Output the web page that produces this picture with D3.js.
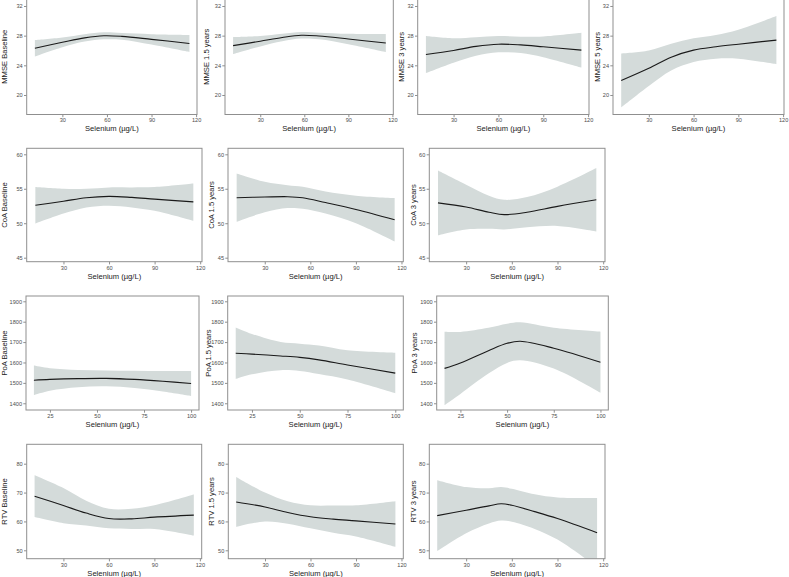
<!DOCTYPE html>
<html><head><meta charset="utf-8">
<script src="https://cdn.jsdelivr.net/npm/d3@7"></script>
<style>
html,body{margin:0;padding:0;background:#fff;}
svg{display:block;font-family:"Liberation Sans",Arial,sans-serif;}
</style></head>
<body>
<svg id="chart" width="789" height="577"></svg>
<script>
// ---------- tick labels ----------
const xTicksA = [30, 60, 90, 120];
const xTicksPoA = [25, 50, 75, 100];
const yTicksMMSE = [20, 24, 28, 32];
const yTicksCoA = [45, 50, 55, 60];
const yTicksPoA = [1400, 1500, 1600, 1700, 1800, 1900];
const yTicksRTV = [50, 60, 70, 80];
const xTitle = "Selenium (µg/L)";

// ---------- MMSE ----------
const mmseBaseX  = [11.5, 30, 45, 58, 70, 90, 115.5];
const mmseBaseFit= [26.3, 27.1, 27.7, 27.98, 27.9, 27.5, 26.95];
const mmseBaseHi = [27.4, 27.75, 28.2, 28.45, 28.35, 28.2, 28.1];
const mmseBaseLo = [25.2, 26.45, 27.2, 27.5, 27.45, 26.8, 25.8];

const mmse15X  = [11.5, 30, 45, 58, 70, 90, 115.5];
const mmse15Fit= [26.65, 27.25, 27.75, 28.05, 27.95, 27.55, 27.0];
const mmse15Hi = [27.8, 27.95, 28.25, 28.5, 28.4, 28.25, 28.2];
const mmse15Lo = [25.5, 26.55, 27.25, 27.6, 27.5, 26.85, 25.8];

const mmse3X  = [11.5, 30, 45, 60, 75, 90, 115.5];
const mmse3Fit= [25.45, 26.0, 26.55, 26.85, 26.75, 26.5, 26.05];
const mmse3Hi = [27.95, 27.65, 27.8, 27.95, 27.85, 27.9, 28.4];
const mmse3Lo = [22.95, 24.35, 25.3, 25.75, 25.65, 25.1, 23.7];

const mmse5X  = [11.5, 30, 45, 60, 75, 90, 115.5];
const mmse5Fit= [21.95, 23.6, 25.1, 26.05, 26.5, 26.85, 27.4];
const mmse5Hi = [25.6, 26.0, 26.9, 27.65, 28.1, 28.8, 30.65];
const mmse5Lo = [18.3, 21.2, 23.3, 24.45, 24.9, 24.9, 24.15];

// ---------- CoA ----------
const coaBaseX  = [11.5, 30, 45, 60, 75, 90, 115.5];
const coaBaseFit= [52.6, 53.2, 53.7, 53.9, 53.75, 53.5, 53.1];
const coaBaseHi = [55.25, 55.0, 55.0, 55.2, 55.2, 55.25, 55.75];
const coaBaseLo = [49.95, 51.4, 52.3, 52.55, 52.3, 51.8, 50.35];

const coa15X  = [11.5, 30, 45, 55, 70, 90, 115.5];
const coa15Fit= [53.7, 53.8, 53.85, 53.7, 53.0, 52.0, 50.5];
const coa15Hi = [57.2, 56.0, 55.5, 55.3, 54.6, 54.0, 53.65];
const coa15Lo = [50.2, 51.6, 52.2, 52.1, 51.4, 50.0, 47.35];

const coa3X  = [11.5, 30, 45, 55, 70, 90, 115.5];
const coa3Fit= [52.95, 52.35, 51.6, 51.25, 51.6, 52.45, 53.4];
const coa3Hi = [57.65, 55.6, 54.0, 53.4, 53.8, 55.3, 58.0];
const coa3Lo = [48.25, 49.1, 49.2, 49.1, 49.4, 49.6, 48.8];

// ---------- PoA ----------
const poaBaseX  = [16.5, 25, 40, 55, 70, 85, 100];
const poaBaseFit= [1513, 1517, 1521, 1522, 1517, 1508, 1497];
const poaBaseHi = [1585, 1572, 1563, 1561, 1559, 1558, 1558];
const poaBaseLo = [1441, 1462, 1479, 1483, 1475, 1458, 1436];

const poa15X  = [16.5, 25, 40, 50, 60, 75, 100];
const poa15Fit= [1645, 1641, 1632, 1625, 1613, 1588, 1548];
const poa15Hi = [1772, 1740, 1700, 1692, 1683, 1660, 1648];
const poa15Lo = [1519, 1542, 1562, 1558, 1543, 1516, 1449];

const poa3X  = [16.5, 25, 40, 50, 57, 75, 100];
const poa3Fit= [1571, 1598, 1658, 1694, 1704, 1670, 1601];
const poa3Hi = [1751, 1750, 1770, 1790, 1797, 1770, 1751];
const poa3Lo = [1391, 1446, 1546, 1598, 1611, 1570, 1451];

// ---------- RTV ----------
const rtvBaseX  = [11, 30, 45, 60, 75, 90, 116];
const rtvBaseFit= [68.75, 65.5, 62.9, 61.0, 60.9, 61.5, 62.2];
const rtvBaseHi = [76.0, 71.6, 67.2, 64.4, 64.4, 65.6, 69.3];
const rtvBaseLo = [61.5, 59.4, 58.6, 57.6, 57.4, 57.4, 55.1];

const rtv15X  = [11, 30, 45, 60, 75, 90, 116];
const rtv15Fit= [66.75, 65.0, 63.1, 61.6, 60.8, 60.2, 59.1];
const rtv15Hi = [75.4, 70.0, 67.0, 65.6, 65.5, 65.6, 67.0];
const rtv15Lo = [58.1, 60.0, 59.2, 57.6, 56.1, 54.8, 51.2];

const rtv3X  = [11, 30, 45, 53, 60, 75, 90, 116];
const rtv3Fit= [62.0, 63.9, 65.4, 66.1, 65.6, 63.4, 61.0, 56.1];
const rtv3Hi = [74.3, 71.9, 71.5, 71.9, 71.3, 69.4, 68.3, 68.1];
const rtv3Lo = [49.7, 55.9, 59.3, 60.3, 59.9, 57.4, 53.7, 44.1];

// ---------- layout ----------
const rows = [
  {y:[-1,114.5], yDom:[17.37,32.94], xDom:[6.0,120.6], yTicks:yTicksMMSE, xTicks:xTicksA,
   cols:[[26.7,197],[225,393.3],[417.7,589],[613,784]], titleX:[4,206.7,401.7,597.7]},
  {y:[148.3,261.7], yDom:[44.42,60.87], xDom:[5.8,121.2], yTicks:yTicksCoA, xTicks:xTicksA,
   cols:[[26.7,202],[228,403.3],[429.3,605]], titleX:[4,211,413.3]},
  {y:[296,410], yDom:[1367,1926], xDom:[12.3,104.2], yTicks:yTicksPoA, xTicks:xTicksPoA,
   cols:[[26,199],[227.7,403.3],[436.7,608.3]], titleX:[4,208.5,414]},
  {y:[444.3,558.7], yDom:[47.09,86.72], xDom:[5.8,121.2], yTicks:yTicksRTV, xTicks:xTicksA,
   cols:[[26.7,201.7],[228.3,403.3],[429.3,605]], titleX:[4,211.7,413.3]}
];

const panels = [
  {row:0,col:0,label:"MMSE Baseline",  x:mmseBaseX,fit:mmseBaseFit,lo:mmseBaseLo,hi:mmseBaseHi},
  {row:0,col:1,label:"MMSE 1.5 years", x:mmse15X,fit:mmse15Fit,lo:mmse15Lo,hi:mmse15Hi},
  {row:0,col:2,label:"MMSE 3 years",   x:mmse3X,fit:mmse3Fit,lo:mmse3Lo,hi:mmse3Hi},
  {row:0,col:3,label:"MMSE 5 years",   x:mmse5X,fit:mmse5Fit,lo:mmse5Lo,hi:mmse5Hi},
  {row:1,col:0,label:"CoA Baseline",   x:coaBaseX,fit:coaBaseFit,lo:coaBaseLo,hi:coaBaseHi},
  {row:1,col:1,label:"CoA 1.5 years",  x:coa15X,fit:coa15Fit,lo:coa15Lo,hi:coa15Hi},
  {row:1,col:2,label:"CoA 3 years",    x:coa3X,fit:coa3Fit,lo:coa3Lo,hi:coa3Hi},
  {row:2,col:0,label:"PoA Baseline",   x:poaBaseX,fit:poaBaseFit,lo:poaBaseLo,hi:poaBaseHi},
  {row:2,col:1,label:"PoA 1.5 years",  x:poa15X,fit:poa15Fit,lo:poa15Lo,hi:poa15Hi},
  {row:2,col:2,label:"PoA 3 years",    x:poa3X,fit:poa3Fit,lo:poa3Lo,hi:poa3Hi},
  {row:3,col:0,label:"RTV Baseline",   x:rtvBaseX,fit:rtvBaseFit,lo:rtvBaseLo,hi:rtvBaseHi},
  {row:3,col:1,label:"RTV 1.5 years",  x:rtv15X,fit:rtv15Fit,lo:rtv15Lo,hi:rtv15Hi},
  {row:3,col:2,label:"RTV 3 years",    x:rtv3X,fit:rtv3Fit,lo:rtv3Lo,hi:rtv3Hi}
];

const svg = d3.select("#chart");
const borderCol = "#8f8f8f", tickTextCol = "#4d4d4d", titleCol = "#1a1a1a";
const ribbonCol = "#d4dbda";
const curve = d3.curveCatmullRom.alpha(0.5);

panels.forEach((p, i) => {
  const r = rows[p.row];
  const [x0, x1] = r.cols[p.col];
  const [yTop, yBot] = r.y;
  const xs = d3.scaleLinear().domain(r.xDom).range([x0, x1]);
  const ys = d3.scaleLinear().domain(r.yDom).range([yBot, yTop]);
  const data = p.x.map((xv, k) => ({x: xv, f: p.fit[k], lo: p.lo[k], hi: p.hi[k]}));

  const g = svg.append("g");
  const clipId = "clip" + i;
  g.append("clipPath").attr("id", clipId).append("rect")
    .attr("x", x0).attr("y", yTop).attr("width", x1 - x0).attr("height", yBot - yTop);

  const area = d3.area().x(d => xs(d.x)).y0(d => ys(d.lo)).y1(d => ys(d.hi)).curve(curve);
  const line = d3.line().x(d => xs(d.x)).y(d => ys(d.f)).curve(curve);

  const inner = g.append("g").attr("clip-path", `url(#${clipId})`);
  inner.append("path").datum(data).attr("d", area).attr("fill", ribbonCol);
  inner.append("path").datum(data).attr("d", line).attr("fill", "none")
    .attr("stroke", "#1a1a1a").attr("stroke-width", 1.1);

  // border
  g.append("rect").attr("x", x0).attr("y", yTop).attr("width", x1 - x0).attr("height", yBot - yTop)
    .attr("fill", "none").attr("stroke", borderCol).attr("stroke-width", 1);

  // y axis
  const yAxis = d3.axisLeft(ys).tickValues(r.yTicks).tickSize(2.7).tickPadding(1.3).tickFormat(d3.format("d"));
  const ya = g.append("g").attr("transform", `translate(${x0},0)`).call(yAxis);
  ya.select(".domain").remove();
  ya.selectAll(".tick line").attr("stroke", borderCol);
  ya.selectAll(".tick text").attr("fill", tickTextCol).attr("font-size", 5.6)
    .attr("font-family", "Liberation Sans, Arial, sans-serif");

  // x axis
  const xAxis = d3.axisBottom(xs).tickValues(r.xTicks).tickSize(2.7).tickPadding(1.3).tickFormat(d3.format("d"));
  const xa = g.append("g").attr("transform", `translate(0,${yBot})`).call(xAxis);
  xa.select(".domain").remove();
  xa.selectAll(".tick line").attr("stroke", borderCol);
  xa.selectAll(".tick text").attr("fill", tickTextCol).attr("font-size", 5.6)
    .attr("font-family", "Liberation Sans, Arial, sans-serif");

  // x title
  g.append("text").attr("x", (x0 + x1) / 2).attr("y", yBot + 16.8)
    .attr("text-anchor", "middle").attr("font-size", 7.6).attr("fill", titleCol).text(xTitle);

  // y title
  const tx = r.titleX[p.col] + 2.7, ty = (yTop + yBot) / 2;
  g.append("text").attr("transform", `translate(${tx},${ty}) rotate(-90)`)
    .attr("text-anchor", "middle").attr("font-size", 7.6).attr("fill", titleCol).text(p.label);
});
</script>
</body></html>
